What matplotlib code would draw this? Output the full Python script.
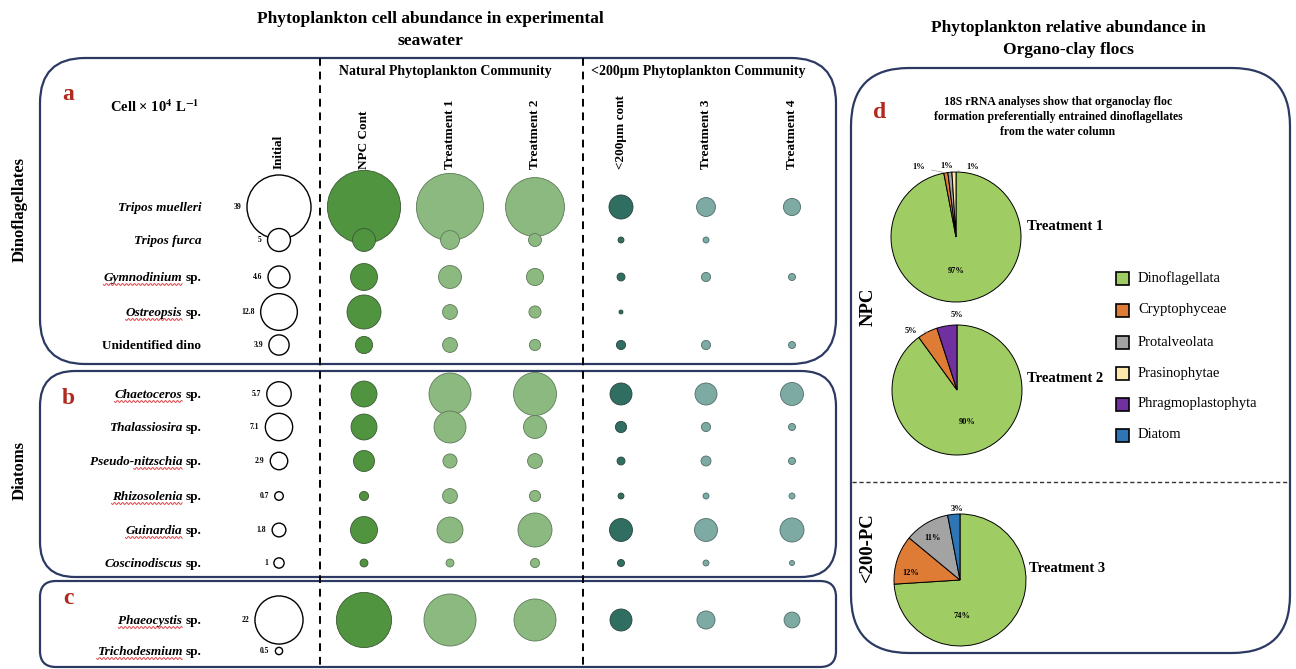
import numpy as np
import matplotlib
matplotlib.use('Agg')
import matplotlib.pyplot as plt
from matplotlib.patches import FancyBboxPatch, Rectangle

plt.rcParams['font.family'] = ['Liberation Serif', 'DejaVu Serif']
plt.rcParams['mathtext.fontset'] = 'stix'

# cell abundance, x 10^4 cells per litre
species = ['Tripos muelleri', 'Tripos furca', 'Gymnodinium sp.', 'Ostreopsis sp.',
           'Unidentified dino', 'Chaetoceros sp.', 'Thalassiosira sp.',
           'Pseudo-nitzschia sp.', 'Rhizosolenia sp.', 'Guinardia sp.',
           'Coscinodiscus sp.', 'Phaeocystis sp.', 'Trichodesmium sp.']
initial = [39, 5, 4.6, 12.8, 3.9, 5.7, 7.1, 2.9, 0.7, 1.8, 1, 22, 0.5]
npc_cont = [51, 5.0, 6.9, 11, 2.8, 6.4, 6.4, 4.2, 0.8, 6.9, 0.6, 29, 0]
treatment1 = [43, 3.4, 5.0, 2.1, 2.1, 16.8, 9.7, 1.9, 2.1, 6.4, 0.6, 25.7, 0]
treatment2 = [33, 1.6, 2.8, 1.4, 1.2, 17.6, 5.0, 2.1, 1.2, 11, 0.8, 16.8, 0]
cont200 = [5.5, 0.34, 0.6, 0.15, 0.8, 4.6, 1.2, 0.6, 0.34, 5.0, 0.47, 4.6, 0]
treatment3 = [3.4, 0.34, 0.8, 0, 0.8, 4.6, 0.8, 0.95, 0.34, 5.0, 0.34, 3.1, 0]
treatment4 = [2.8, 0, 0.47, 0, 0.47, 5.0, 0.47, 0.47, 0.34, 5.5, 0.24, 2.4, 0]
columns = ['Initial', 'NPC Cont', 'Treatment 1', 'Treatment 2',
           '<200µm cont', 'Treatment 3', 'Treatment 4']
col_values = [initial, npc_cont, treatment1, treatment2, cont200, treatment3, treatment4]
underlined = ['Gymnodinium', 'Ostreopsis', 'Chaetoceros', 'nitzschia',
              'Rhizosolenia', 'Guinardia', 'Phaeocystis', 'Trichodesmium']

# 18S rRNA relative abundance (%) in organo-clay flocs
taxa = ['Dinoflagellata', 'Cryptophyceae', 'Protalveolata', 'Prasinophytae',
        'Phragmoplastophyta', 'Diatom']
taxa_colors = ['#9fcd63', '#de7b35', '#a3a3a3', '#fde9a9', '#7030a0', '#2e75b6']
pct_treatment1 = [97, 1, 1, 1, 0, 0]
pct_treatment2 = [90, 5, 0, 0, 5, 0]
pct_treatment3 = [74, 12, 11, 0, 0, 3]

W, H = 1296, 669
fig = plt.figure(figsize=(W / 100, H / 100), dpi=100)
ax = fig.add_axes([0, 0, 1, 1])
ax.set_xlim(0, W)
ax.set_ylim(H, 0)
ax.axis('off')

# layout (pixels)
col_x = [279, 364, 450, 535, 621, 706, 792]
row_y = [207, 240, 277, 312, 345, 394, 427, 461, 496, 530, 563, 620, 651]
face = ['white', '#509440', '#8bb980', '#8bb980', '#306e62', '#7eaaa4', '#7eaaa4']
edge = ['black', '#3a5a34', '#5d7a58', '#5d7a58', '#27443f', '#4f6d69', '#4f6d69']
SCALE = 54.5          # marker area (pt^2) per unit of abundance
navy = '#2c3a63'
red = '#b02a20'
bold = dict(fontweight='bold')

# panel outlines
for (x0, y0, x1, y1, rad) in [(40, 58, 836, 364, 45), (40, 371, 836, 577, 35),
                              (40, 581, 836, 667, 16), (851, 68, 1290, 653, 58)]:
    ax.add_patch(FancyBboxPatch((x0, y0), x1 - x0, y1 - y0,
                                boxstyle=f'round,pad=0,rounding_size={rad}',
                                fill=False, edgecolor=navy, lw=1.6, zorder=1))
for xv in (320, 583):
    ax.plot([xv, xv], [58, 667], color='black', lw=1.4, dashes=(4, 3), zorder=1)
ax.plot([852, 1290], [482, 482], color='#333333', lw=1.0, dashes=(3, 2))

# titles
ax.text(430, 30, 'Phytoplankton cell abundance in experimental\nseawater',
        ha='center', va='center', fontsize=12.5, linespacing=1.45, **bold)
ax.text(1068, 39, 'Phytoplankton relative abundance in\nOrgano-clay flocs',
        ha='center', va='center', fontsize=12.5, linespacing=1.45, **bold)
ax.text(445, 72, 'Natural Phytoplankton Community', ha='center', va='center',
        fontsize=10, **bold)
ax.text(698, 72, '<200µm Phytoplankton Community', ha='center', va='center',
        fontsize=10, **bold)
ax.text(110, 107, r'Cell × 10$^{\mathbf{4}}$ L$^{\mathbf{-1}}$', ha='left',
        va='center', fontsize=10.5, **bold)

for letter, (lx, ly) in zip('abcd', [(68, 95), (68, 398), (68, 598), (880, 112)]):
    ax.text(lx, ly, letter, color=red, fontsize=17, ha='center', va='center', **bold)

ax.text(20, 210, 'Dinoflagellates', rotation=90, ha='center', va='center',
        fontsize=12, **bold)
ax.text(20, 470, 'Diatoms', rotation=90, ha='center', va='center',
        fontsize=12, **bold)

for x, name in zip(col_x, columns):
    ax.text(x, 169, name, rotation=90, ha='center', va='bottom', fontsize=9.5, **bold)

# species names: genus in italics, "sp." upright
renderer = fig.canvas.get_renderer()
inv = ax.transData.inverted()


def extent(t):
    bb = t.get_window_extent(renderer)
    (xa, ya), (xb, yb) = inv.transform([[bb.x0, bb.y0], [bb.x1, bb.y1]])
    return xa, xb


def squiggle(xa, xb, yb):
    xs = np.linspace(xa, xb, int((xb - xa) * 2) + 2)
    ax.plot(xs, yb + 1.0 * np.sin((xs - xa) * np.pi / 2.0), color='#e0474c', lw=0.7)


label_right = 201
for name, y in zip(species, row_y):
    yb = y + 4
    if name.endswith(' sp.'):
        genus = name[:-4]
        t = ax.text(label_right, yb, 'sp.', ha='right', va='baseline',
                    fontsize=9.5, **bold)
        gx = extent(t)[0] - 3
        g = ax.text(gx, yb, genus, ha='right', va='baseline', fontsize=9.5,
                    style='italic', **bold)
        xa, xb = extent(g)
        if genus.startswith('Pseudo-'):
            p = ax.text(xa, yb, 'Pseudo-', ha='left', va='baseline', fontsize=9.5,
                        style='italic', **bold)
            xa = extent(p)[1]
            p.remove()
        if genus.split('-')[-1] in underlined:
            squiggle(xa, xb, yb + 3.5)
    elif name.startswith('Unidentified'):
        ax.text(label_right, yb, name, ha='right', va='baseline', fontsize=9.5, **bold)
    else:
        ax.text(label_right, yb, name, ha='right', va='baseline', fontsize=9.5,
                style='italic', **bold)

# abundance bubbles
ys = np.array(row_y)
for j, vals in enumerate(col_values):
    v = np.array(vals, dtype=float)
    keep = v > 0
    ax.scatter(np.full(keep.sum(), col_x[j]), ys[keep], s=SCALE * v[keep],
               facecolor=face[j], edgecolor=edge[j],
               linewidth=1.0 if j == 0 else 0.6, zorder=3)

for v, y in zip(initial, row_y):
    r = np.sqrt(SCALE * v) / 0.72 / 2
    ax.text(col_x[0] - r - 6, y, f'{v:g}', ha='right', va='center',
            fontsize=5.5, **bold)

# panel d
ax.text(1058, 117, '18S rRNA analyses show that organoclay floc\n'
        'formation preferentially entrained dinoflagellates\nfrom the water column',
        ha='center', va='center', fontsize=8.5, linespacing=1.3, **bold)
ax.text(868, 307, 'NPC', rotation=90, ha='center', va='center', fontsize=13.5, **bold)
ax.text(868, 548, '<200-PC', rotation=90, ha='center', va='center', fontsize=13.5, **bold)


def draw_pie(cx, cy, r, pct, label_pos, leaders, title, tx):
    w = 2.5 * r
    pax = fig.add_axes([(cx - w / 2) / W, 1 - (cy + w / 2) / H, w / W, w / H])
    vals = [p for p in pct if p > 0]
    cols = [c for p, c in zip(pct, taxa_colors) if p > 0]
    wedges, _ = pax.pie(vals, colors=cols, startangle=90, counterclock=False,
                        wedgeprops=dict(edgecolor='black', linewidth=0.7))
    for wdg, p, pos, lead in zip(wedges, vals, label_pos, leaders):
        if lead:
            th = np.deg2rad((wdg.theta1 + wdg.theta2) / 2)
            pax.annotate(f'{p}%', xy=(np.cos(th), np.sin(th)), xytext=pos,
                         ha='center', va='center', fontsize=6, fontweight='bold',
                         arrowprops=dict(arrowstyle='-', color='#9a9a9a', lw=0.5,
                                         shrinkA=3, shrinkB=0))
        else:
            pax.text(pos[0], pos[1], f'{p}%', ha='center', va='center',
                     fontsize=6, fontweight='bold')
    pax.set_xlim(-1.25, 1.25)
    pax.set_ylim(-1.25, 1.25)
    ax.text(tx, cy - 11, title, ha='left', va='center', fontsize=10.5, **bold)


draw_pie(956, 237, 65, pct_treatment1,
         [(0, -0.52), (-0.58, 1.07), (-0.15, 1.1), (0.25, 1.07)],
         [False, True, True, True], 'Treatment 1', 1027)
draw_pie(957, 390, 65, pct_treatment2,
         [(0.15, -0.49), (-0.71, 0.91), (0.0, 1.15)],
         [False, True, True], 'Treatment 2', 1027)
draw_pie(960, 580, 66, pct_treatment3,
         [(0.03, -0.55), (-0.74, 0.11), (-0.42, 0.64), (-0.05, 1.07)],
         [False, False, False, False], 'Treatment 3', 1029)

# legend
leg_y = [278, 310, 342, 373, 404, 435]
for name, c, y in zip(taxa, taxa_colors, leg_y):
    ax.add_patch(Rectangle((1116, y - 6.5), 13, 13, facecolor=c,
                           edgecolor='black', lw=1.2))
    ax.text(1138, y, name, ha='left', va='center', fontsize=10.5)

fig.savefig('out.png', dpi=100)
